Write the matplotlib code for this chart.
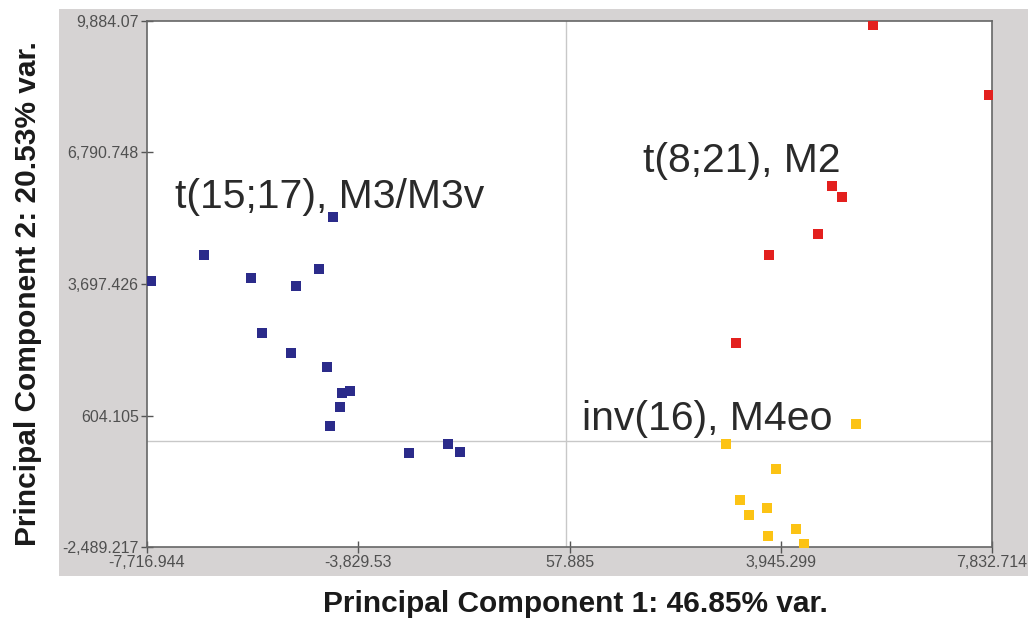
import matplotlib.pyplot as plt
from matplotlib.patches import Rectangle

plt.rcParams['font.family'] = ['Liberation Sans', 'DejaVu Sans']

# scores
blue_x = [-7648.8, -6668.0, -5803.1, -4975.0, -4557.3, -4294.2, -5606.2, -5072.6,
          -4410.1, -4123.0, -3975.8, -4170.8, -4343.8, -2890.1, -2177.9, -1962.6]
blue_y = [3775.2, 4372.7, 3838.7, 3650.5, 4057.5, 5280.6, 2552.0, 2081.5,
          1752.2, 1126.5, 1180.6, 804.2, 364.3, -284.9, -66.1, -254.3]

red_x = [5648.5, 7772.0, 4888.5, 5067.0, 4625.3, 3734.7, 3127.4]
red_y = [9790.0, 8150.5, 6002.8, 5744.1, 4873.7, 4372.7, 2309.7]

yel_x = [5330.1, 2932.3, 3858.0, 3195.5, 3366.6, 3686.8, 4226.0, 3705.2, 4378.7]
yel_y = [404.3, -66.1, -661.3, -1376.4, -1729.2, -1571.6, -2065.6, -2230.2, -2418.4]

xticks = [-7716.944, -3829.53, 57.885, 3945.299, 7832.714]
xtick_labels = ['-7,716.944', '-3,829.53', '57.885', '3,945.299', '7,832.714']
yticks = [-2489.217, 604.105, 3697.426, 6790.748, 9884.07]
ytick_labels = ['-2,489.217', '604.105', '3,697.426', '6,790.748', '9,884.07']

fig = plt.figure(figsize=(10.28, 6.19), dpi=100)

# grey panel behind the plot
fig.patches.append(Rectangle((0.0574, 0.0695), 0.9426, 0.916, transform=fig.transFigure,
                             facecolor='#d6d3d3', edgecolor='none', zorder=-1))

ax = fig.add_axes([0.1430, 0.1163, 0.8220, 0.8498])
ax.set_zorder(1)
ax.set_facecolor('white')

ax.axhline(0, color='#c8c8c8', linewidth=1.0, zorder=1)
ax.axvline(0, color='#c8c8c8', linewidth=1.0, zorder=1)

ax.scatter(blue_x, blue_y, marker='s', s=42, color='#2b2b8a', linewidths=0, zorder=3)
ax.scatter(red_x, red_y, marker='s', s=42, color='#e3201e', linewidths=0, zorder=3)
ax.scatter(yel_x, yel_y, marker='s', s=42, color='#fcc314', linewidths=0, zorder=3)

ax.set_xlim(xticks[0], xticks[-1])
ax.set_ylim(yticks[0], yticks[-1])
ax.set_xticks(xticks)
ax.set_xticklabels(xtick_labels)
ax.set_yticks(yticks)
ax.set_yticklabels(ytick_labels)
ax.tick_params(direction='inout', length=8, width=1, color='#555555',
               labelcolor='#505050', labelsize=11.5, pad=2)

for s in ax.spines.values():
    s.set_color('#666666')
    s.set_linewidth(1.2)

txt = dict(fontsize=29.5, color='#2a2a2a', ha='left', va='baseline')
ax.text(-7201.7, 5485.3, 't(15;17), M3/M3v', **txt)
ax.text(1410.5, 6332.1, 't(8;21), M2', **txt)
ax.text(287.9, 263.2, 'inv(16), M4eo', **txt)

fig.text(0.560, 1 - 612 / 619, 'Principal Component 1: 46.85% var.',
         fontsize=21.5, fontweight='bold', color='#1a1a1a', ha='center', va='baseline')
fig.text(0.027, 0.525, 'Principal Component 2: 20.53% var.', rotation=90,
         fontsize=21.5, fontweight='bold', color='#1a1a1a', ha='center', va='center')

fig.savefig('out.png', dpi=100)
